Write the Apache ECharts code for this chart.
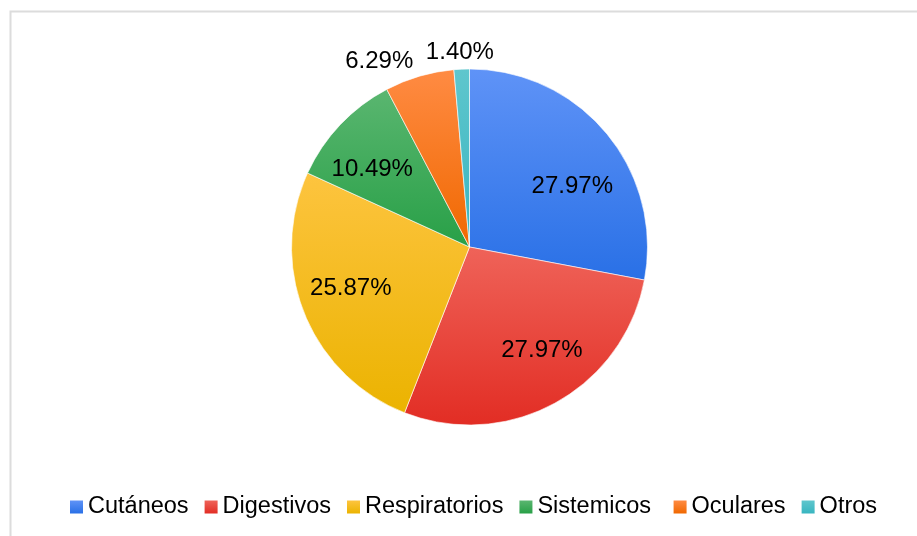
<!DOCTYPE html>
<html>
<head>
<meta charset="utf-8">
<script src="https://cdn.jsdelivr.net/npm/echarts@6/dist/echarts.min.js"></script>
<style>
html,body{margin:0;padding:0;background:#fff;}
#c{width:917px;height:536px;}
</style>
</head>
<body>
<div id="c"></div>
<script>
var categories = ['Cutáneos', 'Digestivos', 'Respiratorios', 'Sistemicos ', 'Oculares', 'Otros'];
var values = [40, 40, 37, 15, 9, 2];
var topColors = ['#5f93f7', '#ef6359', '#fdc43f', '#5ab670', '#ff8b43', '#5fc6cd'];
var bottomColors = ['#2970e6', '#e22d24', '#ebb300', '#28a047', '#f06800', '#38b5c0'];
var smallThreshold = 8; // percent below which the label sits outside

var total = values.reduce(function (a, b) { return a + b; }, 0);
function pct(v) { return (v / total * 100).toFixed(2) + '%'; }
function grad(i) {
  return new echarts.graphic.LinearGradient(0, 0, 0, 1, [
    { offset: 0, color: topColors[i] },
    { offset: 1, color: bottomColors[i] }
  ]);
}
var fmt = function (p) { return pct(p.value); };
var FONT = '"Liberation Sans", Arial, sans-serif';

var mainData = categories.map(function (n, i) {
  var small = values[i] / total * 100 < smallThreshold;
  return { name: n, value: values[i], itemStyle: { color: grad(i) }, label: { show: small } };
});
var overlayData = categories.map(function (n, i) {
  var small = values[i] / total * 100 < smallThreshold;
  return { name: n, value: values[i], label: { show: !small } };
});

// label nudges (pixels) to mimic the original placement
var innerNudge = [[5, 20], [11, -8], [-1, -6], [-5, 10], [0, 0], [0, 0]];
var outerNudge = [[0, 0], [0, 0], [0, 0], [0, 0], [4, 2], [4, 1]];

var chart = echarts.init(document.getElementById('c'));
chart.setOption({
  animation: false,
  backgroundColor: '#fff',
  color: bottomColors,
  graphic: [{
    type: 'rect', left: 8, top: 9, silent: true,
    shape: { width: 1200, height: 1000 },
    style: { fill: 'none', stroke: '#dcdcdc', lineWidth: 2 }
  }],
  legend: {
    data: categories,
    bottom: 12,
    left: 65,
    itemWidth: 13,
    itemHeight: 13,
    itemGap: 16,
    icon: 'rect',
    itemStyle: { borderWidth: 0 },
    textStyle: { fontFamily: FONT, fontSize: 23.5, color: '#000' }
  },
  series: [{
    type: 'pie',
    center: [469.5, 247],
    radius: [0, 178],
    startAngle: 90,
    clockwise: true,
    avoidLabelOverlap: false,
    itemStyle: { borderColor: 'rgba(255,255,255,0.6)', borderWidth: 1 },
    label: {
      position: 'outside',
      formatter: fmt,
      fontFamily: FONT, fontSize: 24, color: '#000'
    },
    labelLine: { show: false, length: 18, length2: 0 },
    labelLayout: function (p) {
      var r = { dx: outerNudge[p.dataIndex][0], dy: outerNudge[p.dataIndex][1] };
      if (p.dataIndex === categories.length - 1) r.align = 'center';
      return r;
    },
    emphasis: { disabled: true },
    data: mainData
  }, {
    type: 'pie',
    center: [469.5, 247],
    radius: [70, 178],
    startAngle: 90,
    clockwise: true,
    silent: true,
    avoidLabelOverlap: false,
    itemStyle: { color: 'rgba(0,0,0,0)', borderWidth: 0 },
    label: {
      position: 'inside',
      formatter: fmt,
      fontFamily: FONT, fontSize: 24, color: '#000'
    },
    labelLine: { show: false },
    labelLayout: function (p) {
      return { dx: innerNudge[p.dataIndex][0], dy: innerNudge[p.dataIndex][1] };
    },
    emphasis: { disabled: true },
    legendHoverLink: false,
    data: overlayData
  }]
});
</script>
</body>
</html>
